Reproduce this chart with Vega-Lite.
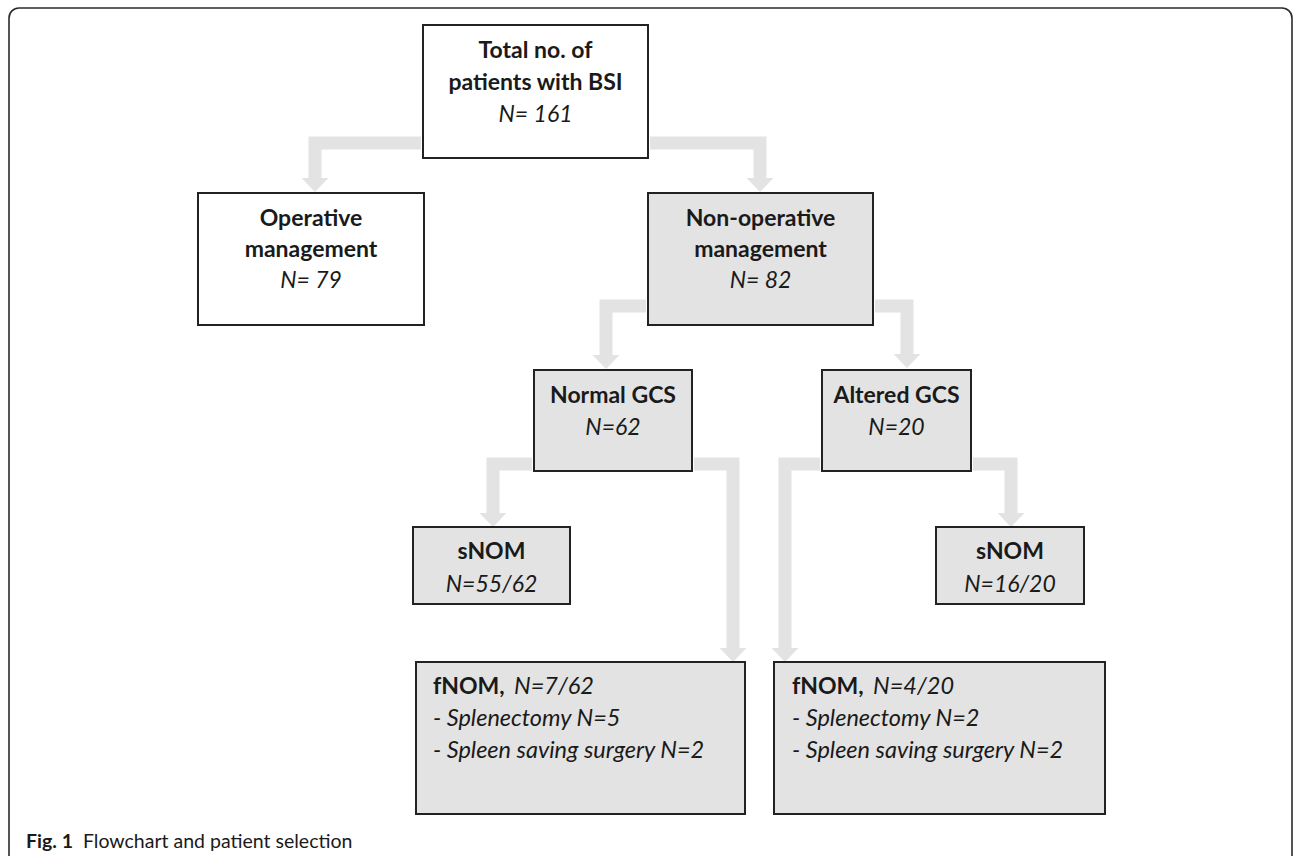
{
  "$schema": "https://vega.github.io/schema/vega-lite/v6.json",
  "width": 1293,
  "height": 856,
  "autosize": {"type": "none"},
  "padding": 0,
  "background": "white",
  "config": {"view": {"stroke": null}, "font": "Lato"},
  "datasets": {
    "frame": [{"x1": 9, "x2": 1292, "y1": 8, "y2": 900}],
    "boxes": [
      {"id": "total", "x1": 423, "x2": 648, "y1": 25, "y2": 158, "tone": "white"},
      {"id": "operative", "x1": 198, "x2": 424, "y1": 193, "y2": 325, "tone": "white"},
      {"id": "nonop", "x1": 648, "x2": 873, "y1": 193, "y2": 325, "tone": "gray"},
      {"id": "normal", "x1": 534, "x2": 692, "y1": 370, "y2": 471, "tone": "gray"},
      {"id": "altered", "x1": 822, "x2": 971, "y1": 370, "y2": 471, "tone": "gray"},
      {"id": "snom1", "x1": 413, "x2": 570, "y1": 527, "y2": 604, "tone": "gray"},
      {"id": "snom2", "x1": 936, "x2": 1084, "y1": 527, "y2": 604, "tone": "gray"},
      {"id": "fnom1", "x1": 416, "x2": 745, "y1": 662, "y2": 814, "tone": "gray"},
      {"id": "fnom2", "x1": 774, "x2": 1105, "y1": 662, "y2": 814, "tone": "gray"}
    ],
    "arrows": [
      {"arrow": "a1", "step": 1, "x": 421, "y": 143},
      {"arrow": "a1", "step": 2, "x": 315, "y": 143},
      {"arrow": "a1", "step": 3, "x": 315, "y": 179},
      {"arrow": "a2", "step": 1, "x": 650, "y": 143},
      {"arrow": "a2", "step": 2, "x": 760, "y": 143},
      {"arrow": "a2", "step": 3, "x": 760, "y": 179},
      {"arrow": "a3", "step": 1, "x": 646, "y": 306},
      {"arrow": "a3", "step": 2, "x": 606, "y": 306},
      {"arrow": "a3", "step": 3, "x": 606, "y": 356},
      {"arrow": "a4", "step": 1, "x": 875, "y": 306},
      {"arrow": "a4", "step": 2, "x": 907, "y": 306},
      {"arrow": "a4", "step": 3, "x": 907, "y": 355},
      {"arrow": "a5", "step": 1, "x": 532, "y": 464},
      {"arrow": "a5", "step": 2, "x": 493, "y": 464},
      {"arrow": "a5", "step": 3, "x": 493, "y": 514},
      {"arrow": "a6", "step": 1, "x": 694, "y": 464},
      {"arrow": "a6", "step": 2, "x": 733, "y": 464},
      {"arrow": "a6", "step": 3, "x": 733, "y": 649},
      {"arrow": "a7", "step": 1, "x": 820, "y": 464},
      {"arrow": "a7", "step": 2, "x": 785, "y": 464},
      {"arrow": "a7", "step": 3, "x": 785, "y": 649},
      {"arrow": "a8", "step": 1, "x": 973, "y": 464},
      {"arrow": "a8", "step": 2, "x": 1011, "y": 464},
      {"arrow": "a8", "step": 3, "x": 1011, "y": 514}
    ],
    "heads": [
      {"arrow": "a1", "x": 315, "y": 185},
      {"arrow": "a2", "x": 760, "y": 185},
      {"arrow": "a3", "x": 606, "y": 362},
      {"arrow": "a4", "x": 907, "y": 361},
      {"arrow": "a5", "x": 493, "y": 520},
      {"arrow": "a6", "x": 733, "y": 655},
      {"arrow": "a7", "x": 785, "y": 655},
      {"arrow": "a8", "x": 1011, "y": 520}
    ],
    "labels": [
      {"kind": "head", "x": 535.5, "y": 58, "text": "Total no. of"},
      {"kind": "head", "x": 535.5, "y": 90, "text": "patients with BSI"},
      {"kind": "count", "x": 535.5, "y": 122, "text": "N= 161"},
      {"kind": "head", "x": 311, "y": 226, "text": "Operative"},
      {"kind": "head", "x": 311, "y": 257, "text": "management"},
      {"kind": "count", "x": 311, "y": 288, "text": "N= 79"},
      {"kind": "head", "x": 760.5, "y": 226, "text": "Non-operative"},
      {"kind": "head", "x": 760.5, "y": 257, "text": "management"},
      {"kind": "count", "x": 760.5, "y": 288, "text": "N= 82"},
      {"kind": "head", "x": 613, "y": 403, "text": "Normal GCS"},
      {"kind": "count", "x": 613, "y": 435, "text": "N=62"},
      {"kind": "head", "x": 896.5, "y": 403, "text": "Altered GCS"},
      {"kind": "count", "x": 896.5, "y": 435, "text": "N=20"},
      {"kind": "head", "x": 491.5, "y": 559, "text": "sNOM"},
      {"kind": "count", "x": 491.5, "y": 592, "text": "N=55/62"},
      {"kind": "head", "x": 1010, "y": 559, "text": "sNOM"},
      {"kind": "count", "x": 1010, "y": 592, "text": "N=16/20"},
      {"kind": "fhead", "x": 433, "y": 694, "text": "fNOM,"},
      {"kind": "fcount", "x": 514, "y": 694, "text": "N=7/62"},
      {"kind": "fitem", "x": 433, "y": 726, "text": "- Splenectomy N=5"},
      {"kind": "fitem", "x": 433, "y": 758, "text": "- Spleen saving surgery N=2"},
      {"kind": "fhead", "x": 792, "y": 694, "text": "fNOM,"},
      {"kind": "fcount", "x": 873, "y": 694, "text": "N=4/20"},
      {"kind": "fitem", "x": 792, "y": 726, "text": "- Splenectomy N=2"},
      {"kind": "fitem", "x": 792, "y": 758, "text": "- Spleen saving surgery N=2"},
      {"kind": "capbold", "x": 26, "y": 848, "text": "Fig. 1"},
      {"kind": "caption", "x": 83, "y": 848, "text": "Flowchart and patient selection"}
    ]
  },
  "layer": [
    {
      "data": {"name": "frame"},
      "mark": {"type": "rect", "fill": null, "stroke": "#2b2b2b", "strokeWidth": 1.6, "cornerRadius": 10},
      "encoding": {
        "x": {"field": "x1", "type": "quantitative", "scale": {"domain": [0, 1293], "nice": false, "zero": false}, "axis": null},
        "x2": {"field": "x2"},
        "y": {"field": "y1", "type": "quantitative", "scale": {"domain": [0, 856], "nice": false, "zero": false, "reverse": true}, "axis": null},
        "y2": {"field": "y2"}
      }
    },
    {
      "data": {"name": "arrows"},
      "mark": {"type": "line", "stroke": "#e3e3e3", "strokeWidth": 13, "strokeJoin": "miter", "strokeCap": "butt"},
      "encoding": {
        "x": {"field": "x", "type": "quantitative", "scale": {"domain": [0, 1293], "nice": false, "zero": false}, "axis": null},
        "y": {"field": "y", "type": "quantitative", "scale": {"domain": [0, 856], "nice": false, "zero": false, "reverse": true}, "axis": null},
        "detail": {"field": "arrow"},
        "order": {"field": "step", "type": "quantitative"}
      }
    },
    {
      "data": {"name": "heads"},
      "mark": {"type": "point", "shape": "M-1,-0.52L1,-0.52L0,0.52Z", "filled": true, "fill": "#e3e3e3", "opacity": 1, "strokeWidth": 0, "size": 729},
      "encoding": {
        "x": {"field": "x", "type": "quantitative", "scale": {"domain": [0, 1293], "nice": false, "zero": false}, "axis": null},
        "y": {"field": "y", "type": "quantitative", "scale": {"domain": [0, 856], "nice": false, "zero": false, "reverse": true}, "axis": null}
      }
    },
    {
      "data": {"name": "boxes"},
      "mark": {"type": "rect", "stroke": "#222222", "strokeWidth": 2},
      "encoding": {
        "x": {"field": "x1", "type": "quantitative", "scale": {"domain": [0, 1293], "nice": false, "zero": false}, "axis": null},
        "x2": {"field": "x2"},
        "y": {"field": "y1", "type": "quantitative", "scale": {"domain": [0, 856], "nice": false, "zero": false, "reverse": true}, "axis": null},
        "y2": {"field": "y2"},
        "fill": {"field": "tone", "type": "nominal", "scale": {"domain": ["white", "gray"], "range": ["#ffffff", "#e3e3e3"]}, "legend": null}
      }
    },
    {
      "data": {"name": "labels"},
      "transform": [{"filter": "datum.kind === 'head'"}],
      "mark": {"type": "text", "align": "center", "baseline": "alphabetic", "fontWeight": "bold", "fontSize": 23, "fill": "#1a1a1a"},
      "encoding": {
        "x": {"field": "x", "type": "quantitative", "scale": {"domain": [0, 1293], "nice": false, "zero": false}, "axis": null},
        "y": {"field": "y", "type": "quantitative", "scale": {"domain": [0, 856], "nice": false, "zero": false, "reverse": true}, "axis": null},
        "text": {"field": "text"}
      }
    },
    {
      "data": {"name": "labels"},
      "transform": [{"filter": "datum.kind === 'count'"}],
      "mark": {"type": "text", "align": "center", "baseline": "alphabetic", "fontStyle": "italic", "fontSize": 23, "fill": "#1a1a1a"},
      "encoding": {
        "x": {"field": "x", "type": "quantitative", "scale": {"domain": [0, 1293], "nice": false, "zero": false}, "axis": null},
        "y": {"field": "y", "type": "quantitative", "scale": {"domain": [0, 856], "nice": false, "zero": false, "reverse": true}, "axis": null},
        "text": {"field": "text"}
      }
    },
    {
      "data": {"name": "labels"},
      "transform": [{"filter": "datum.kind === 'fhead'"}],
      "mark": {"type": "text", "align": "left", "baseline": "alphabetic", "fontWeight": "bold", "fontSize": 23, "fill": "#1a1a1a"},
      "encoding": {
        "x": {"field": "x", "type": "quantitative", "scale": {"domain": [0, 1293], "nice": false, "zero": false}, "axis": null},
        "y": {"field": "y", "type": "quantitative", "scale": {"domain": [0, 856], "nice": false, "zero": false, "reverse": true}, "axis": null},
        "text": {"field": "text"}
      }
    },
    {
      "data": {"name": "labels"},
      "transform": [{"filter": "datum.kind === 'fcount' || datum.kind === 'fitem'"}],
      "mark": {"type": "text", "align": "left", "baseline": "alphabetic", "fontStyle": "italic", "fontSize": 23.5, "fill": "#1a1a1a"},
      "encoding": {
        "x": {"field": "x", "type": "quantitative", "scale": {"domain": [0, 1293], "nice": false, "zero": false}, "axis": null},
        "y": {"field": "y", "type": "quantitative", "scale": {"domain": [0, 856], "nice": false, "zero": false, "reverse": true}, "axis": null},
        "text": {"field": "text"}
      }
    },
    {
      "data": {"name": "labels"},
      "transform": [{"filter": "datum.kind === 'capbold'"}],
      "mark": {"type": "text", "align": "left", "baseline": "alphabetic", "fontWeight": "bold", "fontSize": 19.5, "fill": "#1a1a1a"},
      "encoding": {
        "x": {"field": "x", "type": "quantitative", "scale": {"domain": [0, 1293], "nice": false, "zero": false}, "axis": null},
        "y": {"field": "y", "type": "quantitative", "scale": {"domain": [0, 856], "nice": false, "zero": false, "reverse": true}, "axis": null},
        "text": {"field": "text"}
      }
    },
    {
      "data": {"name": "labels"},
      "transform": [{"filter": "datum.kind === 'caption'"}],
      "mark": {"type": "text", "align": "left", "baseline": "alphabetic", "fontSize": 19.5, "fill": "#1a1a1a"},
      "encoding": {
        "x": {"field": "x", "type": "quantitative", "scale": {"domain": [0, 1293], "nice": false, "zero": false}, "axis": null},
        "y": {"field": "y", "type": "quantitative", "scale": {"domain": [0, 856], "nice": false, "zero": false, "reverse": true}, "axis": null},
        "text": {"field": "text"}
      }
    }
  ]
}
